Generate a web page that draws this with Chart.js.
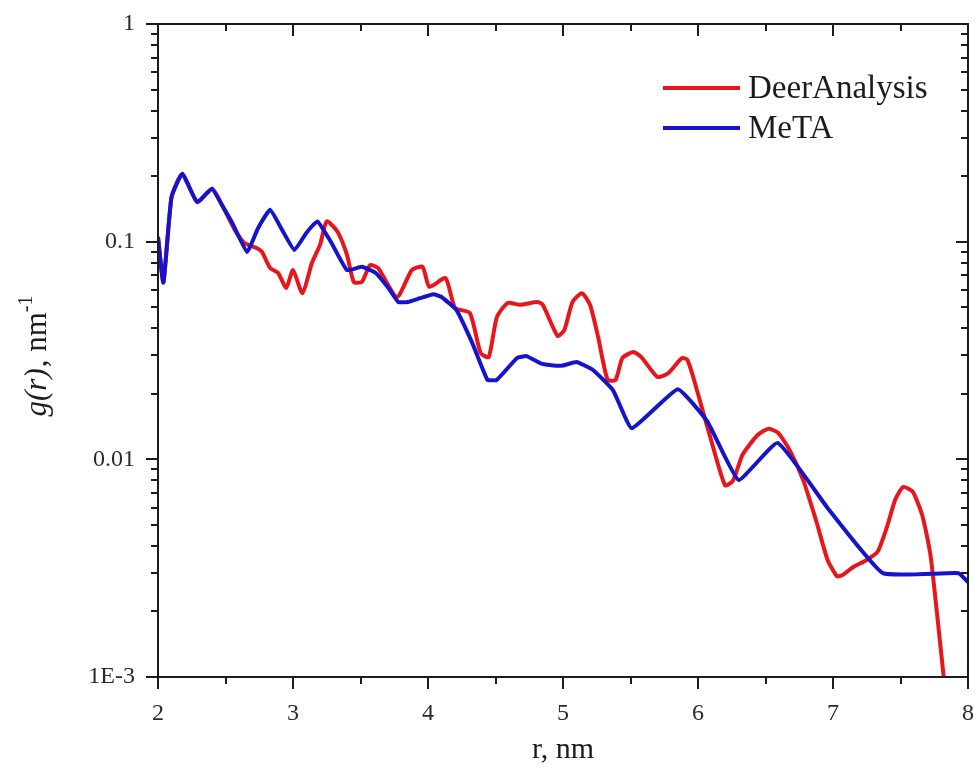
<!DOCTYPE html>
<html>
<head>
<meta charset="utf-8">
<script src="https://cdn.jsdelivr.net/npm/chart.js@4/dist/chart.umd.min.js"></script>
<style>
    html, body { margin: 0; padding: 0; background: #fff; }
    #wrap { width: 974px; height: 776px; position: relative; }
</style>
</head>
<body>
<div id="wrap"><canvas id="chart"></canvas></div>
<script>
// Series
const deerR = [2.00, 2.04, 2.10, 2.18, 2.29, 2.40, 2.48, 2.57, 2.64, 2.73, 2.77, 2.83, 2.89, 2.95, 3.00, 3.07, 3.14, 3.20, 3.25, 3.33,
               3.40, 3.45, 3.51, 3.57, 3.63, 3.77, 3.88, 3.96, 4.01, 4.13, 4.20, 4.31, 4.39, 4.45, 4.51, 4.59, 4.68, 4.81, 4.85, 4.96,
               5.01, 5.07, 5.14, 5.20, 5.26, 5.33, 5.39, 5.44, 5.52, 5.58, 5.70, 5.78, 5.88, 5.92, 5.96, 6.04, 6.09, 6.20, 6.26, 6.33,
               6.44, 6.52, 6.59, 6.68, 6.78, 6.88, 6.96, 7.03, 7.07, 7.15, 7.25, 7.33, 7.40, 7.46, 7.52, 7.59, 7.66, 7.72, 7.77, 7.82];
const deerG = [0.105, 0.065, 0.16, 0.205, 0.152, 0.175, 0.145, 0.113, 0.0986, 0.0935, 0.0897, 0.0757, 0.0718, 0.0613, 0.074, 0.058, 0.0798, 0.0966, 0.124, 0.111,
               0.0869, 0.0653, 0.0653, 0.078, 0.0757, 0.0557, 0.074, 0.0766, 0.062, 0.068, 0.0496, 0.047, 0.0308, 0.0295, 0.045, 0.0523, 0.0513, 0.0528, 0.0513, 0.0369,
               0.0393, 0.0528, 0.058, 0.0513, 0.0365, 0.0232, 0.0232, 0.0292, 0.0311, 0.0295, 0.0239, 0.0249, 0.0292, 0.0287, 0.0244, 0.0163, 0.0127, 0.0076, 0.008, 0.0105,
               0.0129, 0.0138, 0.0133, 0.011, 0.008, 0.0051, 0.00345, 0.0029, 0.00294, 0.0032, 0.00345, 0.00376, 0.0049, 0.0065, 0.00746, 0.0071, 0.00556, 0.0037, 0.00197, 0.001];

const metaR = [2.00, 2.04, 2.10, 2.18, 2.29, 2.40, 2.48, 2.55, 2.66, 2.74, 2.83, 2.92, 3.01, 3.10, 3.18, 3.28, 3.40, 3.51, 3.61, 3.70,
               3.78, 3.85, 3.94, 4.04, 4.10, 4.21, 4.33, 4.44, 4.51, 4.66, 4.73, 4.83, 4.93, 5.00, 5.10, 5.22, 5.37, 5.51, 5.85, 6.07,
               6.30, 6.59, 6.96, 7.37, 7.93, 8.00];
const metaG = [0.105, 0.065, 0.16, 0.205, 0.152, 0.175, 0.145, 0.122, 0.0897, 0.115, 0.14, 0.113, 0.0916, 0.11, 0.124, 0.1, 0.074, 0.0766, 0.072, 0.062,
               0.0528, 0.0528, 0.055, 0.0574, 0.0557, 0.0486, 0.034, 0.0232, 0.0232, 0.0292, 0.0298, 0.0277, 0.027, 0.027, 0.028, 0.0258, 0.0208, 0.0139, 0.021, 0.0149,
               0.00804, 0.0119, 0.00598, 0.003, 0.003, 0.00273];

const seriesNames = ["DeerAnalysis", "MeTA"];
const seriesColors = ["#e8151b", "#1414cc"];

const xTicks = [2, 3, 4, 5, 6, 7, 8];
const yTicks = [0.001, 0.01, 0.1, 1];
const yTickLabels = ["1E-3", "0.01", "0.1", "1"];

const xTitle = "r, nm";
const yTitleItalic = "g(r)";
const yTitleRest = ", nm";
const yTitleSup = "-1";

const serif = "'Liberation Serif', 'Times New Roman', serif";
const inkColor = "#1c1c1c";

function toPoints(xs, ys)
{
    return xs.map((x, i) => ({ x: x, y: ys[i] }));
}

// Frame, ticks on all four sides, titles and legend
const decorPlugin =
{
    id: "decor",

    afterDraw(chart)
    {
        const ctx = chart.ctx;
        const area = chart.chartArea;
        const xs = chart.scales.x;
        const ys = chart.scales.y;

        ctx.save();
        ctx.strokeStyle = inkColor;
        ctx.lineWidth = 2;
        ctx.strokeRect(area.left, area.top, area.right - area.left, area.bottom - area.top);

        const major = 12, minor = 7;

        ctx.beginPath();
        for (let v = 2; v <= 8.001; v += 0.5)
        {
            const px = Math.round(xs.getPixelForValue(v));
            const len = Math.abs(v - Math.round(v)) < 1e-6 ? major : minor;
            ctx.moveTo(px, area.bottom);
            ctx.lineTo(px, area.bottom + len);
            ctx.moveTo(px, area.top);
            ctx.lineTo(px, area.top + len);
        }

        for (let e = -3; e <= 0; e++)
        {
            for (let m = 1; m <= 9; m++)
            {
                const v = m * Math.pow(10, e);
                if (v > 1.0001) break;
                const py = Math.round(ys.getPixelForValue(v));
                const len = m === 1 ? major : minor;
                ctx.moveTo(area.left, py);
                ctx.lineTo(area.left - len, py);
                ctx.moveTo(area.right, py);
                ctx.lineTo(area.right - len, py);
            }
        }
        ctx.stroke();

        // Axis titles
        ctx.fillStyle = inkColor;
        ctx.textBaseline = "middle";
        ctx.textAlign = "center";
        ctx.font = "30px " + serif;
        ctx.fillText(xTitle, (area.left + area.right) / 2, 750);

        ctx.translate(38, (area.top + area.bottom) / 2 + 6);
        ctx.rotate(-Math.PI / 2);
        ctx.textAlign = "left";
        const fItalic = "italic 31px " + serif;
        const fNormal = "31px " + serif;
        const fSup = "20px " + serif;
        ctx.font = fItalic; const w1 = ctx.measureText(yTitleItalic).width;
        ctx.font = fNormal; const w2 = ctx.measureText(yTitleRest).width;
        ctx.font = fSup; const w3 = ctx.measureText(yTitleSup).width;
        let cx = -(w1 + w2 + w3) / 2;
        ctx.font = fItalic; ctx.fillText(yTitleItalic, cx, 0); cx += w1 + 1;
        ctx.font = fNormal; ctx.fillText(yTitleRest, cx, 0); cx += w2;
        ctx.font = fSup; ctx.fillText(yTitleSup, cx, -11);
        ctx.setTransform(1, 0, 0, 1, 0, 0);

        // Legend
        ctx.font = "33px " + serif;
        ctx.textAlign = "left";
        chart.data.datasets.forEach((ds, i) =>
        {
            const y = 88 + i * 40;
            ctx.strokeStyle = ds.borderColor;
            ctx.lineWidth = 4;
            ctx.beginPath();
            ctx.moveTo(663, y);
            ctx.lineTo(740, y);
            ctx.stroke();
            ctx.fillStyle = inkColor;
            ctx.fillText(ds.label, 748, y + 1);
        });

        ctx.restore();
    }
};

new Chart(document.getElementById("chart"),
{
    type: "line",

    data:
    {
        datasets:
        [
            {
                label: seriesNames[0],
                data: toPoints(deerR, deerG),
                borderColor: seriesColors[0],
                borderWidth: 4,
                pointRadius: 0,
                tension: 0.2,
                order: 2
            },
            {
                label: seriesNames[1],
                data: toPoints(metaR, metaG),
                borderColor: seriesColors[1],
                borderWidth: 4,
                pointRadius: 0,
                tension: 0.12,
                order: 1
            }
        ]
    },

    options:
    {
        responsive: true,
        maintainAspectRatio: false,
        animation: false,

        layout:
        {
            padding: { left: 0, right: 6, top: 24, bottom: 0 }
        },

        plugins:
        {
            legend: { display: false },
            tooltip: { enabled: false }
        },

        scales:
        {
            x:
            {
                type: "linear",
                min: 2,
                max: 8,
                grid: { display: false, drawTicks: false },
                border: { display: false },
                afterBuildTicks: (scale) => { scale.ticks = xTicks.map(v => ({ value: v })); },
                ticks:
                {
                    padding: 22,
                    color: "#2a2a2a",
                    font: { family: serif, size: 24 }
                },
                afterFit: (scale) =>
                {
                    scale.height = 99;
                    scale.paddingLeft = 0;
                    scale.paddingRight = 0;
                }
            },

            y:
            {
                type: "logarithmic",
                min: 0.001,
                max: 1,
                grid: { display: false, drawTicks: false },
                border: { display: false },
                afterBuildTicks: (scale) => { scale.ticks = yTicks.map(v => ({ value: v })); },
                ticks:
                {
                    padding: 23,
                    color: "#2a2a2a",
                    font: { family: serif, size: 24 },
                    callback: (val) => yTickLabels[yTicks.findIndex(t => Math.abs(t - val) < t * 1e-6)]
                },
                afterFit: (scale) =>
                {
                    scale.width = 158;
                    scale.paddingTop = 0;
                    scale.paddingBottom = 0;
                }
            }
        }
    },

    plugins: [decorPlugin]
});
</script>
</body>
</html>
